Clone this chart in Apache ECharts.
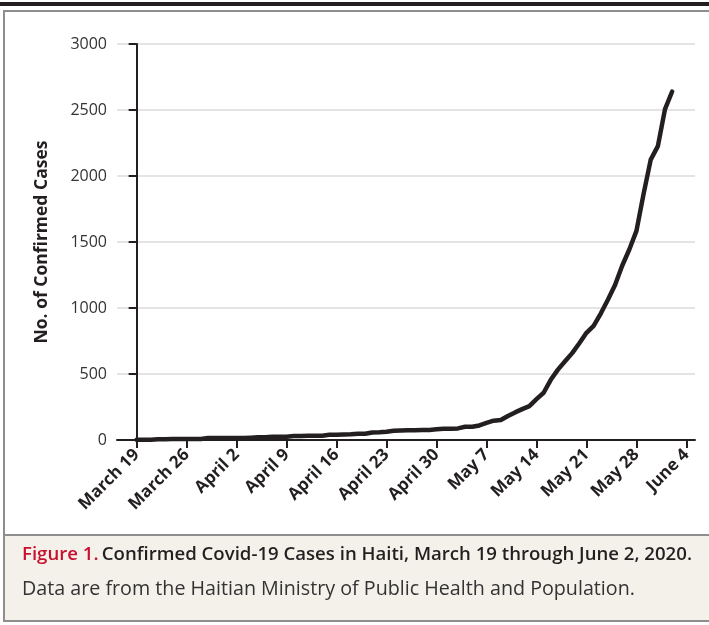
<!DOCTYPE html>
<html>
<head>
<meta charset="utf-8">
<script src="https://cdn.jsdelivr.net/npm/echarts@6/dist/echarts.min.js"></script>
<style>
html,body{margin:0;padding:0;background:#fff;}
#c{width:709px;height:625px;}
</style>
</head>
<body>
<div id="c"></div>
<script>
// Day index 0 = March 19, 2020
const dayIndex = [];
const cases = [
  2, 2, 2, 6, 6, 7, 8, 8, 8, 8,
  15, 15, 15, 15, 16, 16, 18, 21, 21, 24,
  24, 25, 30, 30, 33, 33, 33, 40, 40, 41,
  43, 47, 47, 57, 58, 62, 70, 72, 74, 74,
  76, 76, 81, 85, 85, 88, 100, 101, 110, 129,
  146, 151, 182, 209, 234, 257, 310, 358, 456, 533,
  596, 658, 733, 812, 865, 958, 1063, 1174, 1320, 1443,
  1584, 1865, 2124, 2226, 2507, 2640
];
for (let i = 0; i < cases.length; i++) dayIndex.push(i);

const xTickDays = [0, 7, 14, 21, 28, 35, 42, 49, 56, 63, 70, 77];
const xTickLabels = ['March 19', 'March 26', 'April 2', 'April 9', 'April 16', 'April 23',
                     'April 30', 'May 7', 'May 14', 'May 21', 'May 28', 'June 4'];
const yTicks = [0, 500, 1000, 1500, 2000, 2500, 3000];

const yAxisTitle = 'No. of Confirmed Cases';
const captionLabel = 'Figure 1.';
const captionTitle = 'Confirmed Covid-19 Cases in Haiti, March 19 through June 2, 2020.';
const captionNote = 'Data are from the Haitian Ministry of Public Health and Population.';

const ink = '#231f20';
const font = '"Open Sans", sans-serif';

const chart = echarts.init(document.getElementById('c'), null, {renderer: 'canvas'});
chart.setOption({
  animation: false,
  backgroundColor: '#ffffff',
  grid: {left: 117, right: 14, top: 44, bottom: 185, containLabel: false},
  graphic: [
    {type: 'rect', z: -10, shape: {x: 0, y: 2, width: 709, height: 4}, style: {fill: ink}},
    {type: 'rect', z: -10, shape: {x: 4, y: 11, width: 720, height: 524}, style: {fill: '#ffffff', stroke: '#8e8e8e', lineWidth: 2}},
    {type: 'rect', z: -10, shape: {x: 4, y: 535, width: 720, height: 86}, style: {fill: '#f4f1eb', stroke: '#8e8e8e', lineWidth: 2}},
    {type: 'text', z: 10, x: 22, y: 555, style: {
      text: '{r|' + captionLabel + '} {b|' + captionTitle + '}',
      verticalAlign: 'middle',
      rich: {
        r: {fill: '#c8102e', fontFamily: font, fontWeight: 600, fontSize: 18.6},
        b: {fill: ink, fontFamily: font, fontWeight: 600, fontSize: 18.6}
      }
    }},
    {type: 'text', z: 10, x: 22, y: 589, style: {
      text: captionNote, fill: '#333333', fontFamily: font, fontSize: 19.7, verticalAlign: 'middle'
    }}
  ],
  xAxis: {
    type: 'value',
    min: -2.75,
    max: 78.2,
    axisLine: {show: true, lineStyle: {color: ink, width: 2}},
    axisTick: {show: true, length: 8, lineStyle: {color: ink, width: 2}, customValues: xTickDays},
    axisLabel: {
      customValues: xTickDays,
      rotate: 45,
      margin: 12,
      color: ink,
      fontFamily: font,
      fontWeight: 700,
      fontSize: 17,
      formatter: function (v) {
        const i = xTickDays.indexOf(Math.round(v));
        return i >= 0 ? xTickLabels[i] : '';
      }
    },
    splitLine: {show: false}
  },
  yAxis: {
    type: 'value',
    min: 0,
    max: 3000,
    interval: 500,
    name: yAxisTitle,
    nameLocation: 'middle',
    nameGap: 66,
    nameRotate: 90,
    nameTextStyle: {color: ink, fontFamily: font, fontWeight: 700, fontSize: 17.5},
    axisLine: {show: true, lineStyle: {color: ink, width: 2}},
    axisTick: {show: true, length: 8, lineStyle: {color: ink, width: 2}},
    axisLabel: {
      margin: 10, color: '#333333', fontFamily: font, fontSize: 16,
      customValues: yTicks,
      formatter: function (v) { return String(v); }
    },
    splitLine: {show: true, lineStyle: {color: '#e4e4e4', width: 2}}
  },
  series: [{
    type: 'line',
    data: dayIndex.map((d, i) => [d, cases[i]]),
    showSymbol: false,
    symbol: 'none',
    lineStyle: {color: ink, width: 4.5, cap: 'round', join: 'round'},
    z: 5
  }]
});
</script>
</body>
</html>
